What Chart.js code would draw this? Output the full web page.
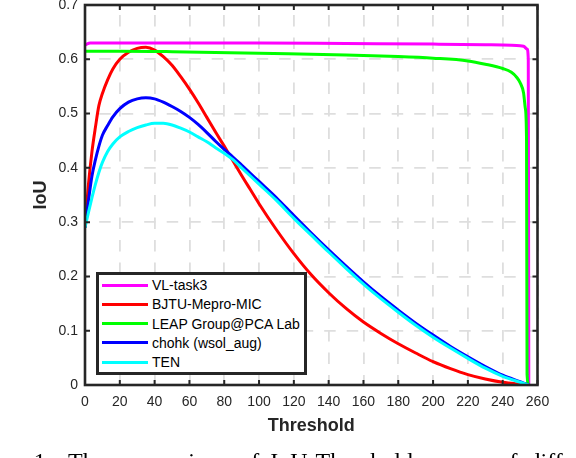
<!DOCTYPE html>
<html><head><meta charset="utf-8">
<script src="https://cdn.jsdelivr.net/npm/chart.js@4.4.1/dist/chart.umd.min.js"></script>
<style>
html,body{margin:0;padding:0;background:#fff;}
#wrap{position:relative;width:576px;height:458px;overflow:hidden;background:#fff;}
canvas{position:absolute;left:0;top:0;}
#legend{position:absolute;left:96px;top:272px;width:211px;height:103px;box-sizing:border-box;border:3px solid #262626;background:#fff;font-family:"Liberation Sans",Arial,sans-serif;font-size:14px;color:#000;}
.sw{position:absolute;left:3px;width:46px;height:3px;}
.lb{position:absolute;left:53px;white-space:nowrap;line-height:14px;}
.cap{position:absolute;font-family:"Liberation Serif","Times New Roman",serif;font-size:24px;line-height:24px;white-space:nowrap;color:#000;top:449px;}
</style></head>
<body><div id="wrap"><canvas id="c" width="576" height="458"></canvas><div id="legend"></div>
<div class="cap" style="left:-35px">Figure 1.</div>
<div class="cap" style="left:68px;word-spacing:5px">The comparison of IoU-Threshold curves of different methods.</div>
</div>
<script>
// ---- data ----
const seriesNames = ['VL-task3', 'BJTU-Mepro-MIC', 'LEAP Group@PCA Lab', 'chohk (wsol_aug)', 'TEN'];
const seriesColors = ['#ff00ff', '#ff0000', '#00ff00', '#0000ff', '#00ffff'];

const xTickLabels = ['0','20','40','60','80','100','120','140','160','180','200','220','240','260'];
const yTickLabels = ['0','0.1','0.2','0.3','0.4','0.5','0.6','0.7'];

const vlThresholds = [0, 1, 3, 10, 50, 100, 150, 200, 230, 245, 250, 252, 254, 254.7, 255];
const vlIoU        = [0.626, 0.628, 0.630, 0.630, 0.630, 0.630, 0.629, 0.628, 0.627, 0.626, 0.625, 0.624, 0.619, 0.600, 0];

const leapThresholds = [0, 20, 50, 100, 150, 180, 200, 220, 230, 240, 245, 248, 250, 252, 253, 253.7, 254, 255];
const leapIoU        = [0.615, 0.615, 0.614, 0.611, 0.608, 0.605, 0.602, 0.597, 0.591, 0.583, 0.576, 0.567, 0.557, 0.538, 0.510, 0.450, 0.020, 0];

const thresholds = [0, 2, 4, 6, 8, 10, 13, 16, 20, 25, 30, 35, 40, 45, 50, 55, 60, 65, 70, 75, 80, 85, 90, 95, 100, 110, 120, 130, 140, 150, 160, 170, 180, 190, 200, 210, 220, 230, 240, 250, 255];
const bjtuIoU  = [0.29, 0.37, 0.43, 0.475, 0.515, 0.537, 0.562, 0.582, 0.600, 0.613, 0.620, 0.622, 0.617, 0.605, 0.589, 0.568, 0.545, 0.520, 0.493, 0.466, 0.440, 0.413, 0.386, 0.360, 0.334, 0.286, 0.242, 0.203, 0.170, 0.141, 0.116, 0.095, 0.076, 0.059, 0.043, 0.030, 0.019, 0.011, 0.005, 0.0015, 0];
const chohkIoU = [0.29, 0.34, 0.385, 0.415, 0.44, 0.46, 0.478, 0.494, 0.509, 0.521, 0.527, 0.529, 0.527, 0.521, 0.513, 0.504, 0.493, 0.480, 0.465, 0.449, 0.434, 0.420, 0.405, 0.390, 0.375, 0.345, 0.312, 0.280, 0.249, 0.219, 0.190, 0.163, 0.138, 0.114, 0.092, 0.071, 0.052, 0.034, 0.018, 0.006, 0];
const tenIoU   = [0.29, 0.318, 0.345, 0.37, 0.392, 0.41, 0.43, 0.444, 0.457, 0.467, 0.474, 0.479, 0.482, 0.482, 0.479, 0.473, 0.466, 0.457, 0.448, 0.437, 0.427, 0.415, 0.400, 0.385, 0.370, 0.340, 0.307, 0.276, 0.245, 0.215, 0.186, 0.159, 0.134, 0.110, 0.088, 0.068, 0.049, 0.031, 0.016, 0.005, 0];

const seriesX = [vlThresholds, thresholds, leapThresholds, thresholds, thresholds];
const seriesY = [vlIoU, bjtuIoU, leapIoU, chohkIoU, tenIoU];

// ---- legend (HTML) ----
const legend = document.getElementById('legend');
seriesNames.forEach((name, i) => {
  const cy = 10 + i * 19.33;
  const sw = document.createElement('div');
  sw.className = 'sw'; sw.style.top = (cy - 1.5) + 'px'; sw.style.background = seriesColors[i];
  const lb = document.createElement('div');
  lb.className = 'lb'; lb.style.top = (cy - 6.85) + 'px'; lb.textContent = name;
  legend.appendChild(sw); legend.appendChild(lb);
});

// ---- chart ----
const AX = '#262626';
Chart.defaults.font.family = '"Liberation Sans", Arial, Helvetica, sans-serif';

const framePlugin = {
  id: 'frame',
  afterDatasetsDraw(chart) {
    const {ctx, chartArea: a, scales: {x, y}} = chart;
    const tl = 5;
    ctx.save();
    ctx.strokeStyle = AX;
    ctx.lineWidth = 2;
    ctx.beginPath();
    x.ticks.forEach(t => {
      const px = x.getPixelForValue(t.value);
      ctx.moveTo(px, a.bottom); ctx.lineTo(px, a.bottom - tl);
      ctx.moveTo(px, a.top); ctx.lineTo(px, a.top + tl);
    });
    y.ticks.forEach(t => {
      const py = y.getPixelForValue(t.value);
      ctx.moveTo(a.left, py); ctx.lineTo(a.left + tl, py);
      ctx.moveTo(a.right, py); ctx.lineTo(a.right - tl, py);
    });
    ctx.stroke();
    ctx.lineWidth = 2.6;
    ctx.strokeRect(a.left, a.top, a.right - a.left, a.bottom - a.top);
    ctx.restore();
  }
};

const datasets = seriesNames.map((name, i) => ({
  label: name,
  data: seriesX[i].map((xv, j) => ({x: xv, y: seriesY[i][j]})),
  borderColor: seriesColors[i],
  backgroundColor: seriesColors[i],
  borderWidth: 3,
  pointRadius: 0,
  fill: false,
  cubicInterpolationMode: 'monotone',
  order: seriesNames.length - i
}));

new Chart(document.getElementById('c'), {
  type: 'line',
  data: {datasets},
  options: {
    responsive: false,
    animation: false,
    devicePixelRatio: 1,
    events: [],
    layout: {padding: {left: 0, right: 38.5, top: 5, bottom: 0}},
    plugins: {legend: {display: false}, tooltip: {enabled: false}},
    scales: {
      x: {
        type: 'linear', min: 0, max: 260,
        afterFit(s) { s.height = 73; s.paddingLeft = 0; s.paddingRight = 0; s.paddingTop = 0; s.paddingBottom = 0; },
        ticks: {stepSize: 20, autoSkip: false, maxRotation: 0, padding: 9, color: AX,
          font: {size: 14}, callback: v => xTickLabels[Math.round(v / 20)]},
        grid: {color: '#dedede', lineWidth: 1.8, drawTicks: false},
        border: {display: false, dash: [11.5, 11], dashOffset: 12.5},
        title: {display: true, text: 'Threshold', color: AX, font: {size: 18, weight: 'bold'}, padding: {top: 0, bottom: 21}}
      },
      y: {
        type: 'linear', min: 0, max: 0.7,
        afterFit(s) { s.width = 85; s.paddingLeft = 0; s.paddingRight = 0; s.paddingTop = 0; s.paddingBottom = 0; },
        ticks: {stepSize: 0.1, autoSkip: false, padding: 7, color: AX,
          font: {size: 14}, callback: v => yTickLabels[Math.round(v * 10)]},
        grid: {color: '#dedede', lineWidth: 1.8, drawTicks: false},
        border: {display: false, dash: [11.5, 11], dashOffset: 8.3},
        title: {display: true, text: 'IoU', color: AX, font: {size: 18, weight: 'bold'}, padding: {top: 30, bottom: 0}}
      }
    }
  },
  plugins: [framePlugin]
});
</script>
</body></html>
